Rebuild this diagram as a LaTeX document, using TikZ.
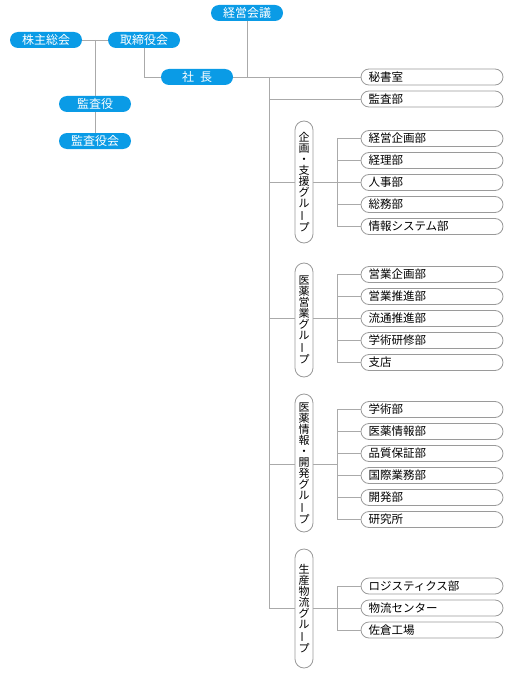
\documentclass[tikz,border=0pt]{standalone}
\usepackage{fontspec}
\usepackage{graphicx}
\setmainfont{Noto Sans CJK JP}
\definecolor{pill}{HTML}{0A9BE6}
\definecolor{ln}{HTML}{AAAAAA}
\definecolor{bd}{HTML}{9A9A9A}
\newcommand{\vbar}{\rotatebox[origin=c]{90}{ー}}
\begin{document}
\begin{tikzpicture}[x=1pt,y=-1pt,
 bluepill/.style={fill=pill, rounded corners=8pt, minimum width=72pt, minimum height=16pt, inner sep=0pt, text=white, font=\fontsize{12}{12}\selectfont},
 dept/.style={draw=bd, line width=0.8pt, rounded corners=8pt, fill=white, minimum height=16pt, text width=127pt, inner xsep=7.5pt, inner ysep=0pt, align=left, font=\fontsize{11.5}{12}\selectfont},
 grp/.style={draw=bd, line width=0.8pt, rounded corners=9pt, minimum width=18pt, inner sep=0pt, align=center, fill=white, font=\fontsize{11}{11}\selectfont},
 conn/.style={draw=ln, line width=0.8pt}]
\useasboundingbox (0,0) rectangle (515,674);
% top management
\node[bluepill] (keiei) at (247,13) {経営会議};
\node[bluepill] (kabu) at (46,40) {株主総会};
\node[bluepill] (tori) at (144,40) {取締役会};
\node[bluepill] (ceo) at (197,77) {社\hspace{6pt}長};
\node[bluepill] (kyaku) at (95,104) {監査役};
\node[bluepill] (kkai) at (95,141) {監査役会};
% direct departments
\node[dept] (hisho) at (432,77) {秘書室};
\node[dept] (kansabu) at (432,99) {監査部};
% groups
\node[grp, minimum height=122pt] (g1) at (304,182) {企\\画\\・\\支\\援\\グ\\ル\\\vbar\\プ};
\node[grp, minimum height=114pt] (g2) at (304,320) {医\\薬\\営\\業\\グ\\ル\\\vbar\\プ};
\node[grp, minimum height=138pt] (g3) at (304,463) {医\\薬\\情\\報\\・\\開\\発\\グ\\ル\\\vbar\\プ};
\node[grp, minimum height=119pt] (g4) at (304,608.5) {生\\産\\物\\流\\グ\\ル\\\vbar\\プ};
% group departments
\foreach \t [count=\i from 0] in {経営企画部,経理部,人事部,総務部,情報システム部}
  \node[dept] (a\i) at (432,138.5+22*\i) {\t};
\foreach \t [count=\i from 0] in {営業企画部,営業推進部,流通推進部,学術研修部,支店}
  \node[dept] (b\i) at (432,274.5+22*\i) {\t};
\foreach \t [count=\i from 0] in {学術部,医薬情報部,品質保証部,国際業務部,開発部,研究所}
  \node[dept] (c\i) at (432,409.5+22*\i) {\t};
\foreach \t [count=\i from 0] in {ロジスティクス部,物流センター,佐倉工場}
  \node[dept] (e\i) at (432,586+22*\i) {\t};
% coordinates
\coordinate (j1) at (95,40);
\coordinate (tk) at (269,77);
\coordinate (tb) at (269,608);
\coordinate (k1) at (337,182.5);
\coordinate (k2) at (337,318.5);
\coordinate (k3) at (337,464.5);
\coordinate (k4) at (337,608);
% connectors
\draw[conn] (kabu.east) -- (tori.west);
\draw[conn] (j1) -- (kyaku.north);
\draw[conn] (kyaku.south) -- (kkai.north);
\draw[conn] (tori.south) |- (ceo.west);
\draw[conn] (keiei.south) -- (keiei.south |- ceo.east);
\draw[conn] (ceo.east) -- (hisho.west);
\draw[conn] (tk) -- (tb);
\draw[conn] (tk |- kansabu) -- (kansabu.west);
\draw[conn] (tk |- g1) -- (g1.west);
\draw[conn] (g1.east |- k1) -- (k1);
\draw[conn] (tk |- k2) -- (g2.west |- k2);
\draw[conn] (g2.east |- k2) -- (k2);
\draw[conn] (tk |- k3) -- (g3.west |- k3);
\draw[conn] (g3.east |- k3) -- (k3);
\draw[conn] (tb) -- (g4.west |- tb);
\draw[conn] (g4.east |- k4) -- (k4);
\draw[conn] (k1 |- a0) -- (k1 |- a4);
\draw[conn] (k2 |- b0) -- (k2 |- b4);
\draw[conn] (k3 |- c0) -- (k3 |- c5);
\draw[conn] (k4 |- e0) -- (k4 |- e2);
\foreach \i in {0,...,4} \draw[conn] (k1 |- a\i) -- (a\i.west);
\foreach \i in {0,...,4} \draw[conn] (k2 |- b\i) -- (b\i.west);
\foreach \i in {0,...,5} \draw[conn] (k3 |- c\i) -- (c\i.west);
\foreach \i in {0,...,2} \draw[conn] (k4 |- e\i) -- (e\i.west);
\end{tikzpicture}
\end{document}
